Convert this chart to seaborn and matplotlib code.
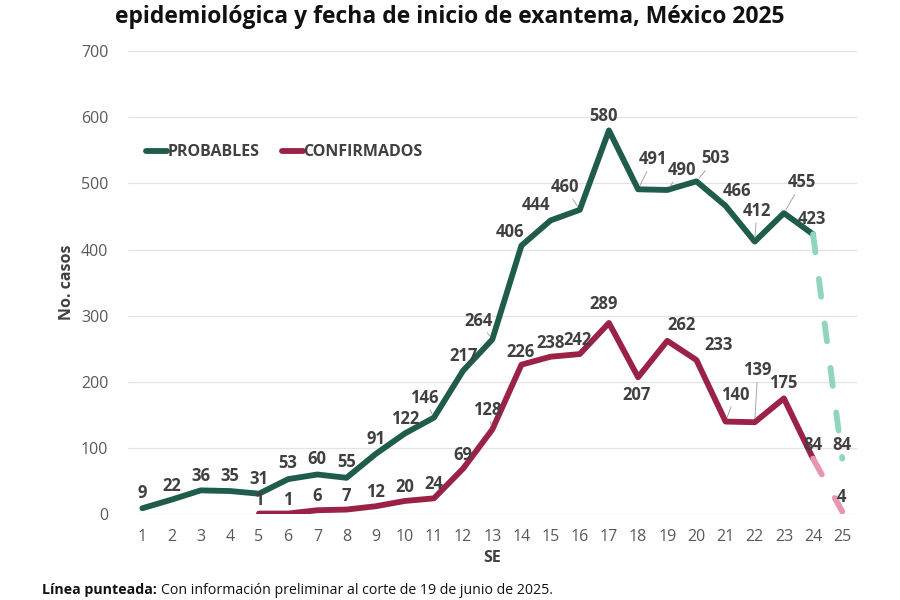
import numpy as np
import pandas as pd
import seaborn as sns
import matplotlib.pyplot as plt

# semanas epidemiologicas
semanas_prob = list(range(1, 25))
probables = [9, 22, 36, 35, 31, 53, 60, 55, 91, 122, 146, 217, 264, 406,
             444, 460, 580, 491, 490, 503, 466, 412, 455, 423]
semanas_conf = list(range(5, 25))
confirmados = [1, 1, 6, 7, 12, 20, 24, 69, 128, 226, 238, 242, 289, 207,
               262, 233, 140, 139, 175, 84]
# ultima semana, preliminar (linea punteada)
semanas_prel = [24, 25]
probables_prel = [423, 84]
confirmados_prel = [84, 4]
xticks = list(range(1, 26))

verde = '#1f5c4c'
guinda = '#9b2247'
verde_cl = '#8fd5bf'
rosa_cl = '#e896b0'
gris_txt = '#404040'

sns.set_style('whitegrid')
plt.rcParams['font.family'] = ['Open Sans', 'DejaVu Sans']

fig = plt.figure(figsize=(9, 6), dpi=100)
ax = fig.add_axes([0.142, 0.143, 0.81, 0.772])

line_kw = dict(linewidth=4.2, solid_capstyle='round', solid_joinstyle='round')
sns.lineplot(x=semanas_prob, y=probables, color=verde, label='PROBABLES', ax=ax, **line_kw)
sns.lineplot(x=semanas_conf, y=confirmados, color=guinda, label='CONFIRMADOS', ax=ax, **line_kw)
sns.lineplot(x=semanas_prel, y=probables_prel, color=verde_cl, ax=ax, linewidth=4.2,
             linestyle=(0, (3.1, 4.6)), dash_capstyle='round', label='_nolegend_')
sns.lineplot(x=semanas_prel, y=confirmados_prel, color=rosa_cl, ax=ax, linewidth=4.2,
             linestyle=(0, (3.1, 4.6)), dash_capstyle='round', label='_nolegend_')

# offsets (pixels) de las etiquetas; True = linea guia
off_prob = {1: (0, 15), 2: (0, 14), 3: (0, 14), 4: (0, 15), 5: (0, 15), 6: (0, 16),
            7: (0, 15), 8: (0, 16), 9: (0, 15), 10: (0, 14), 11: (-10, 20, True),
            12: (0, 15), 13: (-14, 19, True), 14: (-11, 14), 15: (-15, 15),
            16: (-15, 23, True), 17: (-5, 14), 18: (15, 30, True), 19: (15, 20, True),
            20: (19, 23, True), 21: (11, 15), 22: (2, 31, True), 23: (18, 31, True),
            24: (-1, 15)}
off_conf = {13: (-5, 20, True), 14: (-1, 13), 16: (-2, 14), 17: (-5, 19),
            18: (-2, -18), 19: (14, 16), 20: (22, 15), 21: (10, 27, True),
            22: (3, 52, True), 23: (-1, 15)}


def etiquetar(xs, ys, offs):
    for x, y in zip(xs, ys):
        o = offs.get(x, (0, 14))
        guia = len(o) > 2
        ax.annotate(str(y), (x, y), xytext=(o[0], o[1]), textcoords='offset pixels',
                    ha='center', va='center', fontsize=12, fontweight='bold',
                    color=gris_txt,
                    arrowprops=dict(arrowstyle='-', color='#a6a6a6', lw=0.7,
                                    shrinkA=0, shrinkB=3) if guia else None)


etiquetar(semanas_prob, probables, off_prob)
etiquetar(semanas_conf, confirmados, off_conf)
etiquetar([25], [probables_prel[1]], {})
etiquetar([25], [confirmados_prel[1]], {25: (-1, 15)})

ax.set_xlim(0.5, 25.5)
ax.set_ylim(0, 700)
ax.set_xticks(xticks)
ax.set_yticks(range(0, 701, 100))
ax.grid(axis='x', visible=False)
ax.grid(axis='y', color='#e3e3e3', linewidth=0.9)
for s in ax.spines.values():
    s.set_visible(False)
ax.tick_params(axis='both', labelsize=11.5, labelcolor='#595959', length=0)
ax.tick_params(axis='x', pad=11)
ax.tick_params(axis='y', pad=14)
ax.set_xlabel('SE', fontsize=11.5, fontweight='bold', color=gris_txt, labelpad=3)
ax.set_ylabel('No. casos', fontsize=11.5, fontweight='bold', color=gris_txt, labelpad=4)

leg = ax.legend(loc='center left', bbox_to_anchor=(0.005, 0.781), ncol=2, frameon=False,
                handlelength=1.3, handletextpad=0.05, columnspacing=1.4,
                prop={'weight': 'bold', 'size': 11.5})
for t in leg.get_texts():
    t.set_color(gris_txt)
for h in leg.get_lines():
    h.set_linewidth(4.2)
    h.set_solid_capstyle('round')

fig.text(0.5, 0.972, 'epidemiológica y fecha de inicio de exantema, México 2025',
         ha='center', va='center', fontsize=16.5, fontweight='bold', color='#111111')

r = fig.canvas.get_renderer()
t1 = fig.text(42 / 900, 1 - 590 / 600, 'Línea punteada:', ha='left', va='center',
              fontsize=10.2, fontweight='bold', color='#111111')
bb = t1.get_window_extent(renderer=r)
fig.text((bb.x1 + 4) / 900, 1 - 590 / 600,
         'Con información preliminar al corte de 19 de junio de 2025.',
         ha='left', va='center', fontsize=10.2, color='#111111')

fig.savefig('out.png', dpi=100)
